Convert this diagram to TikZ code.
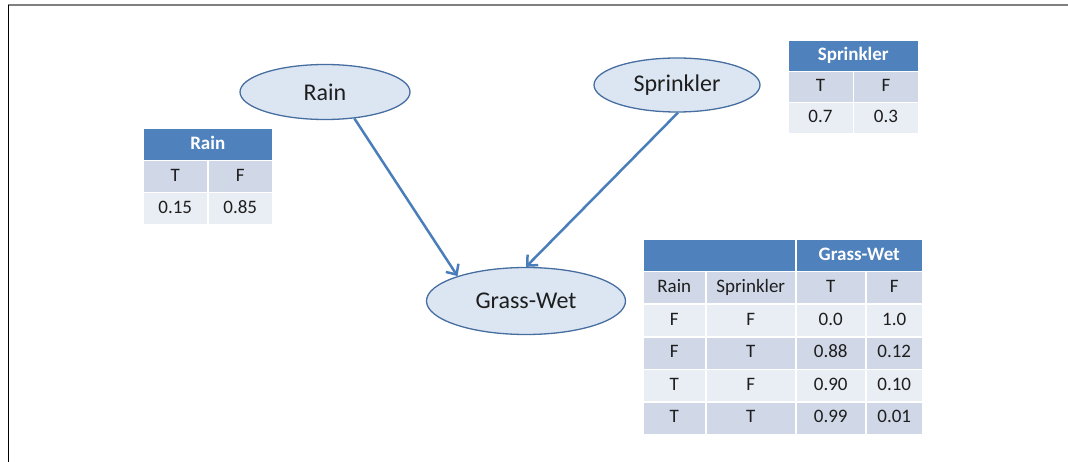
\documentclass[tikz,border=0pt]{standalone}
\usepackage{fontspec}
\setmainfont{Carlito}
\usetikzlibrary{shapes.geometric, arrows, arrows.meta, positioning}

\definecolor{hdblue}{RGB}{79,129,189}
\definecolor{rowdark}{RGB}{208,216,232}
\definecolor{rowlight}{RGB}{233,237,244}
\definecolor{varfill}{RGB}{220,230,242}
\definecolor{varline}{RGB}{70,110,160}
\definecolor{linkblue}{RGB}{74,126,187}
\definecolor{celltext}{RGB}{30,30,30}

\begin{document}
\begin{tikzpicture}[x=1pt, y=-1pt]
        \tikzstyle{var} = [ellipse, draw=varline, fill=varfill, line width=1.3pt, inner sep=0pt, font=\fontsize{24}{26}\selectfont, text=celltext]
        \tikzstyle{link} = [draw=linkblue, line width=2.5pt, -{Straight Barb[length=8pt, width=15pt]}]
        \tikzstyle{cell} = [rectangle, draw=white, line width=1.5pt, anchor=north west, inner sep=0pt, minimum height=32pt, text height=13pt, text depth=4pt, font=\fontsize{19}{21}\selectfont, text=celltext]
        \tikzstyle{hdcell} = [cell, fill=hdblue, text=white, font=\fontsize{19}{21}\selectfont\bfseries]
        \tikzstyle{darkcell} = [cell, fill=rowdark]
        \tikzstyle{lightcell} = [cell, fill=rowlight]

        \useasboundingbox (0,0) rectangle (1068,462);
        % frame
        \draw[gray, line width=2pt] (8,5) -- (1068,5);
        \draw[black, line width=0.8pt] (8,5) -- (8,462);

        % variables
        \node (rain) [var, minimum width=170pt, minimum height=55pt] at (325,92) {Rain};
        \node (sprinkler) [var, minimum width=166pt, minimum height=54pt] at (677,85) {Sprinkler};
        \node (grass) [var, minimum width=199pt, minimum height=67pt] at (526,301) {Grass-Wet};

        \draw[link] (rain.-42) -- (grass.160);
        \draw[link] (sprinkler.-88) -- (grass.north);

        % Rain table
        \node (rainhd) [hdcell, minimum width=130pt] at (142,128) {Rain};
        \node (rainT) [darkcell, minimum width=65pt] at (142,160) {T};
        \node (rainF) [darkcell, minimum width=65pt] at (207,160) {F};
        \node (rainpT) [lightcell, minimum width=65pt] at (142,192) {0.15};
        \node (rainpF) [lightcell, minimum width=65pt] at (207,192) {0.85};

        % Sprinkler table
        \node (sprhd) [hdcell, minimum width=131pt, minimum height=31pt] at (787,40) {Sprinkler};
        \node (sprT) [darkcell, minimum width=65.5pt, minimum height=31pt] at (787,71) {T};
        \node (sprF) [darkcell, minimum width=65.5pt, minimum height=31pt] at (852.5,71) {F};
        \node (sprpT) [lightcell, minimum width=65.5pt, minimum height=31pt] at (787,102) {0.7};
        \node (sprpF) [lightcell, minimum width=65.5pt, minimum height=31pt] at (852.5,102) {0.3};

        % Grass-Wet table
        \node (gwhd) [hdcell, minimum width=153pt] at (642,239) {};
        \node (gwname) [hdcell, minimum width=127pt] at (795,239) {Grass-Wet};
        \node (gwrain) [darkcell, minimum width=63pt] at (642,271) {Rain};
        \node (gwspr) [darkcell, minimum width=90pt] at (705,271) {Sprinkler};
        \node (gwT) [darkcell, minimum width=70pt] at (795,271) {T};
        \node (gwF) [darkcell, minimum width=57pt] at (865,271) {F};
        \foreach \r/\s/\t/\f/\c [count=\i] in {F/F/0.0/1.0/lightcell, F/T/0.88/0.12/darkcell, T/F/0.90/0.10/lightcell, T/T/0.99/0.01/darkcell} {
            \node (gw-\i-1) [\c, minimum width=63pt, minimum height=32.5pt] at (642,{271+32.5*\i}) {\r};
            \node (gw-\i-2) [\c, minimum width=90pt, minimum height=32.5pt] at (705,{271+32.5*\i}) {\s};
            \node (gw-\i-3) [\c, minimum width=70pt, minimum height=32.5pt] at (795,{271+32.5*\i}) {\t};
            \node (gw-\i-4) [\c, minimum width=57pt, minimum height=32.5pt] at (865,{271+32.5*\i}) {\f};
        }
    \end{tikzpicture}
\end{document}
